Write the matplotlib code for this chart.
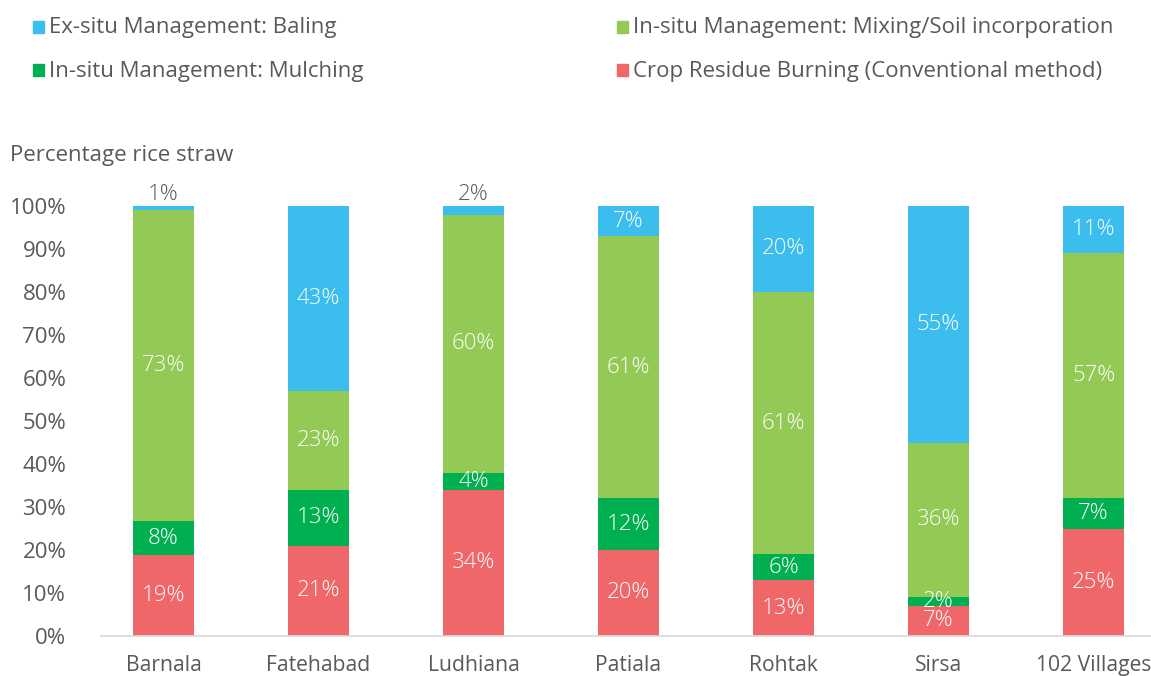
import matplotlib
matplotlib.use("Agg")
import matplotlib.pyplot as plt
from matplotlib.patches import Rectangle
import numpy as np

plt.rcParams['font.family'] = ['Open Sans', 'DejaVu Sans']

districts = ["Barnala", "Fatehabad", "Ludhiana", "Patiala", "Rohtak", "Sirsa", "102 Villages"]
burning = [19, 21, 34, 20, 13, 7, 25]
mulching = [8, 13, 4, 12, 6, 2, 7]
mixing = [73, 23, 60, 61, 61, 36, 57]
baling = [1, 43, 2, 7, 20, 55, 11]

series_names = ["Crop Residue Burning (Conventional method)", "In-situ Management: Mulching",
                "In-situ Management: Mixing/Soil incorporation", "Ex-situ Management: Baling"]
colors = ["#F06769", "#00B050", "#93C955", "#3BBDEE"]
text_grey = "#595959"
fs = 16

W, H = 1151, 676
fig = plt.figure(figsize=(W / 100, H / 100), dpi=100)
ax = fig.add_axes([101 / W, 1 - 636 / H, 1 - 101 / W, (636 - 206) / H])

data = np.array([burning, mulching, mixing, baling], dtype=float)
totals = data.sum(axis=0)
shares = data / totals * 100  # barnala labels sum to 101
x = np.arange(len(districts))
bottom = np.zeros(len(districts))
for i, (vals, col) in enumerate(zip(shares, colors)):
    ax.bar(x, vals, bottom=bottom, width=0.395, color=col, edgecolor="none", zorder=2)
    for j, v in enumerate(vals):
        lab = "{}%".format(int(data[i, j]))
        if i == 3 and data[i, j] < 3:
            ax.text(x[j], 100.3, lab, ha="center", va="bottom", fontsize=fs, color=text_grey,
                    fontweight="light")
        else:
            ax.text(x[j], bottom[j] + v / 2, lab, ha="center", va="center", fontsize=fs, color="white",
                    fontweight="light")
    bottom += vals

ax.set_xlim(-0.403, 6.37)
ax.set_ylim(0, 100)
ax.set_yticks(np.arange(0, 101, 10))
ax.set_yticklabels(["{}%".format(v) for v in range(0, 101, 10)])
ax.set_xticks(x)
ax.set_xticklabels(districts)
ax.tick_params(axis="y", length=0, pad=25, labelsize=fs, labelcolor=text_grey)
ax.tick_params(axis="x", length=0, pad=14, labelsize=15.2, labelcolor=text_grey)
for s in ["left", "right", "top"]:
    ax.spines[s].set_visible(False)
ax.spines["bottom"].set_color("#D9D9D9")
ax.spines["bottom"].set_linewidth(1.2)

fig.text(10 / W, 1 - 155 / H, "Percentage rice straw", ha="left", va="center", fontsize=fs, color=text_grey)

# legend, two columns
legend_items = [(3, 33, 27), (1, 33, 70), (2, 617, 27), (0, 617, 70)]
for idx, lx, ly in legend_items:
    fig.add_artist(Rectangle((lx / W, 1 - (ly + 6) / H), 11 / W, 12 / H,
                             transform=fig.transFigure, color=colors[idx]))
    fig.text((lx + 16) / W, 1 - (ly + 1) / H, series_names[idx], ha="left", va="center",
             fontsize=fs, color=text_grey)

fig.savefig("out.png", dpi=100)
